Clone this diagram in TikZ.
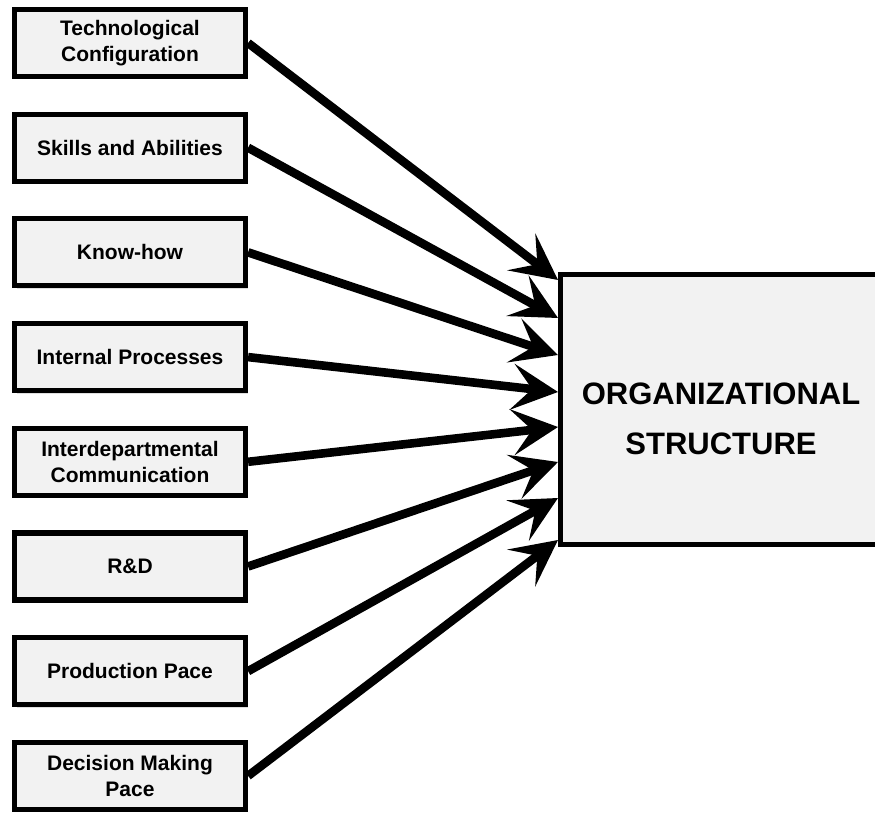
\documentclass[tikz,border=0pt]{standalone}
\usepackage{fontspec}
\setmainfont{Liberation Sans}
\usetikzlibrary{arrows.meta,shadows}
\definecolor{boxfill}{RGB}{242,242,242}
\tikzstyle{factor}=[draw=black,line width=2.6pt,fill=boxfill,minimum width=115.5pt,minimum height=33.5pt,align=center,
  font=\bfseries\fontsize{10.5}{13}\selectfont,drop shadow={shadow xshift=1pt,shadow yshift=-1.5pt,opacity=0.25}]
\tikzstyle{outcome}=[draw=black,line width=2.8pt,fill=boxfill,minimum width=160.5pt,minimum height=135pt,align=center,
  font=\bfseries\fontsize{15.5}{25}\selectfont,drop shadow={shadow xshift=1pt,shadow yshift=-1.5pt,opacity=0.25}]
\tikzstyle{influence}=[line width=4.3pt,-{Stealth[length=23pt,width=23pt,inset=10pt]}]

\begin{document}
\begin{tikzpicture}[x=0.5pt,y=-0.5pt]
  \useasboundingbox (0,0) rectangle (875,813);
  % factors on the left
  \node[factor] (techconf)  at (130,43)    {Technological\\Configuration};
  \node[factor] (skills)    at (130,147.7) {Skills and Abilities};
  \node[factor] (knowhow)   at (130,252.4) {Know-how};
  \node[factor] (intproc)   at (130,357.1) {Internal Processes};
  \node[factor] (interdept) at (130,461.8) {Interdepartmental\\Communication};
  \node[factor] (rnd)       at (130,566.5) {R\&D};
  \node[factor] (prodpace)  at (130,671.2) {Production Pace};
  \node[factor] (decpace)   at (130,775.9) {Decision Making\\Pace};
  % the structure
  \node[outcome] (orgstruct) at (721,409.5) {\rule{0pt}{20pt}ORGANIZATIONAL\\STRUCTURE};
  \coordinate (in1) at (558,280);
  \coordinate (in2) at (558,318);
  \coordinate (in3) at (558,355);
  \coordinate (in4) at (558,392);
  \coordinate (in5) at (558,427);
  \coordinate (in6) at (558,462);
  \coordinate (in7) at (558,498);
  \coordinate (in8) at (558,540);
  % arrows
  \draw[influence] (techconf.east)  -- (in1);
  \draw[influence] (skills.east)    -- (in2);
  \draw[influence] (knowhow.east)   -- (in3);
  \draw[influence] (intproc.east)   -- (in4);
  \draw[influence] (interdept.east) -- (in5);
  \draw[influence] (rnd.east)       -- (in6);
  \draw[influence] (prodpace.east)  -- (in7);
  \draw[influence] (decpace.east)   -- (in8);
\end{tikzpicture}
\end{document}
